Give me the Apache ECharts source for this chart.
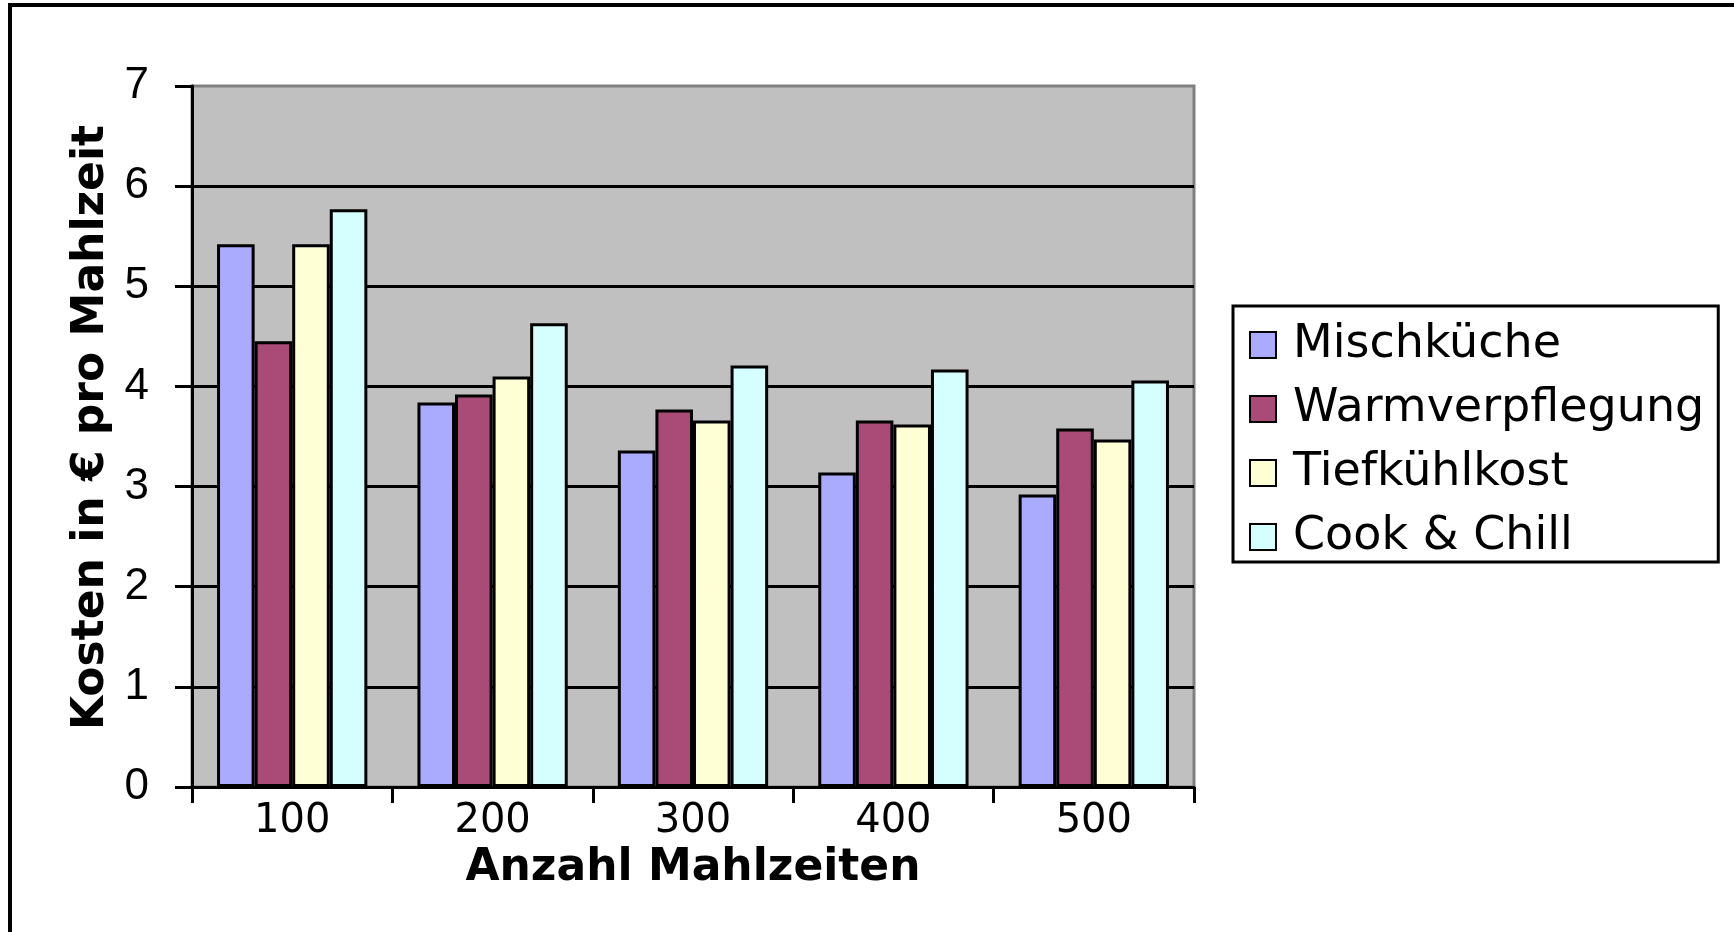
<!DOCTYPE html>
<html>
<head>
    <meta charset="utf-8">
    <script src="https://cdn.jsdelivr.net/npm/echarts/dist/echarts.min.js"></script>
    <style>
        html, body { margin: 0; padding: 0; background: #ffffff; }
    </style>
</head>
<body>
    <div id="main" style="width: 1734px;height:932px;"></div>
    <script type="text/javascript">
        var myChart = echarts.init(document.getElementById('main'));

        // Daten
        var kategorien = ['100', '200', '300', '400', '500'];
        var mischkueche = [5.42, 3.84, 3.36, 3.14, 2.92];
        var warmverpflegung = [4.45, 3.92, 3.77, 3.66, 3.58];
        var tiefkuehlkost = [5.42, 4.10, 3.66, 3.62, 3.47];
        var cookChill = [5.77, 4.63, 4.21, 4.17, 4.06];

        var serienNamen = ['Mischküche', 'Warmverpflegung', 'Tiefkühlkost', 'Cook & Chill'];
        var serienWerte = [mischkueche, warmverpflegung, tiefkuehlkost, cookChill];
        var farben = ['#aaaaff', '#a94a77', '#ffffd5', '#d5ffff'];

        var series = [];
        for (var i = 0; i < serienNamen.length; i++) {
            series.push({
                name: serienNamen[i],
                type: 'bar',
                data: serienWerte[i],
                barGap: 0,
                barCategoryGap: '25%',
                animation: false,
                itemStyle: {
                    color: farben[i],
                    borderColor: '#000000',
                    borderWidth: 3
                }
            });
        }

        var option = {
            backgroundColor: '#ffffff',
            // Rahmen oben und links
            graphic: [
                { type: 'line', shape: { x1: 8, y1: 5, x2: 1734, y2: 5 }, style: { stroke: '#000', lineWidth: 4 } },
                { type: 'line', shape: { x1: 10, y1: 3, x2: 10, y2: 932 }, style: { stroke: '#000', lineWidth: 4 } }
            ],
            grid: {
                left: 192,
                top: 86,
                right: 540,
                bottom: 145,
                show: true,
                backgroundColor: '#c0c0c0',
                borderColor: '#808080',
                borderWidth: 3
            },
            legend: {
                orient: 'vertical',
                left: 1233,
                top: 306,
                data: serienNamen,
                icon: 'rect',
                itemWidth: 26,
                itemHeight: 26,
                itemGap: 18,
                padding: [16, 14, 2, 16],
                borderColor: '#000000',
                borderWidth: 3,
                textStyle: {
                    fontFamily: 'DejaVu Sans',
                    fontSize: 46,
                    lineHeight: 46,
                    color: '#000000',
                    padding: [0, 0, 0, 12]
                }
            },
            xAxis: {
                type: 'category',
                data: kategorien,
                name: 'Anzahl Mahlzeiten',
                nameLocation: 'middle',
                nameGap: 58,
                nameTextStyle: {
                    fontFamily: 'DejaVu Sans',
                    fontWeight: 'bold',
                    fontSize: 44,
                    color: '#000000'
                },
                axisLine: { lineStyle: { color: '#000000', width: 3 } },
                axisTick: { show: true, length: 16, lineStyle: { color: '#000000', width: 3 } },
                axisLabel: {
                    fontFamily: 'DejaVu Sans',
                    fontSize: 40,
                    color: '#000000',
                    margin: 15
                }
            },
            yAxis: {
                type: 'value',
                min: 0,
                max: 7,
                interval: 1,
                name: 'Kosten in € pro Mahlzeit',
                nameLocation: 'middle',
                nameGap: 76,
                nameTextStyle: {
                    fontFamily: 'DejaVu Sans',
                    fontWeight: 'bold',
                    fontSize: 44,
                    color: '#000000',
                    padding: [0, 0, 0, 18]
                },
                axisLine: { show: true, lineStyle: { color: '#000000', width: 3 } },
                axisTick: { show: true, length: 17, lineStyle: { color: '#000000', width: 3 } },
                axisLabel: {
                    fontFamily: 'Liberation Sans',
                    fontSize: 44,
                    color: '#000000',
                    margin: 43
                },
                splitLine: {
                    show: true,
                    showMaxLine: false,
                    lineStyle: { color: '#000000', width: 3 }
                }
            },
            series: series
        };

        myChart.setOption(option);
    </script>
</body>
</html>
